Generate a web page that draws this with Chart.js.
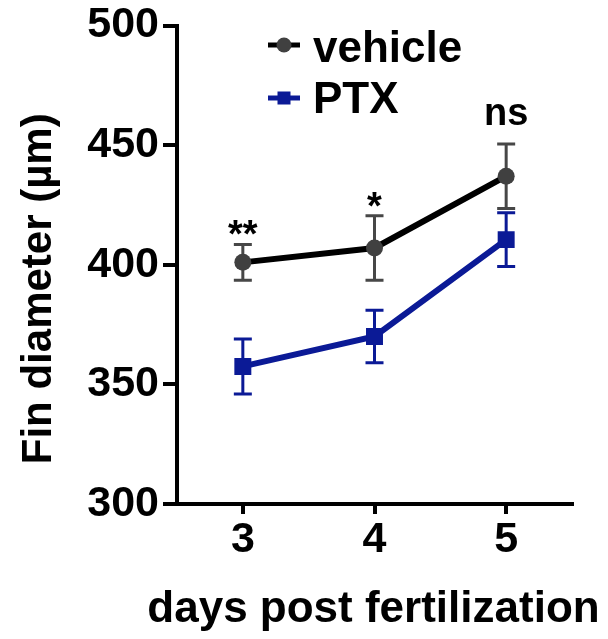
<!DOCTYPE html>
<html>
<head>
<meta charset="utf-8">
<script src="https://cdn.jsdelivr.net/npm/chart.js@4"></script>
<style>
html, body { margin: 0; padding: 0; background: #ffffff; }
#wrap { width: 608px; height: 639px; }
</style>
</head>
<body>
<div id="wrap"><canvas id="c" width="608" height="639"></canvas></div>
<script>
// ---- data ----
const days = ['3', '4', '5'];
const vehicleMean = [401, 407, 437];
const vehicleErr = [7.5, 13.5, 13.5];
const ptxMean = [357.5, 370, 410.5];
const ptxErr = [11.5, 11, 11.2];
const sigLabels = ['**', '*', 'ns'];
const yTickValues = [300, 350, 400, 450, 500];
const seriesNames = ['vehicle', 'PTX'];
const xTitle = 'days post fertilization';
const yTitle = 'Fin diameter (µm)';

const FONT = '"Liberation Sans", Arial, Helvetica, sans-serif';
const BLUE = '#0b1a96';

const errorBars = {
  id: 'errorBars',
  beforeDatasetsDraw(chart) {
    const { ctx, scales: { x, y } } = chart;
    chart.data.datasets.forEach((ds, i) => {
      ctx.save();
      ctx.strokeStyle = ds.errorColor;
      ctx.lineWidth = 3;
      ds.data.forEach((v, j) => {
        const px = x.getPixelForValue(j);
        const top = y.getPixelForValue(v + ds.err[j]);
        const bot = y.getPixelForValue(v - ds.err[j]);
        ctx.beginPath();
        ctx.moveTo(px, top); ctx.lineTo(px, bot);
        ctx.moveTo(px - 9, top); ctx.lineTo(px + 9, top);
        ctx.moveTo(px - 9, bot); ctx.lineTo(px + 9, bot);
        ctx.stroke();
      });
      ctx.restore();
    });
  }
};

const sigMarks = {
  id: 'sigMarks',
  afterDatasetsDraw(chart) {
    const { ctx, scales: { x, y } } = chart;
    ctx.save();
    ctx.fillStyle = '#000';
    ctx.font = 'bold 38px ' + FONT;
    ctx.textAlign = 'center';
    ctx.textBaseline = 'alphabetic';
    sigLabels.forEach((lab, j) => {
      const px = x.getPixelForValue(j);
      const top = y.getPixelForValue(vehicleMean[j] + vehicleErr[j]);
      const py = lab.indexOf('*') >= 0 ? top + 3 : top - 19;
      ctx.fillText(lab, px, py);
    });
    ctx.restore();
  }
};

const axisTitles = {
  id: 'axisTitles',
  afterDraw(chart) {
    const { ctx, chartArea } = chart;
    ctx.save();
    ctx.fillStyle = '#000';
    ctx.font = 'bold 44px ' + FONT;
    ctx.textAlign = 'center';
    ctx.textBaseline = 'alphabetic';
    ctx.fillText(xTitle, (chartArea.left + chartArea.right) / 2 - 1, 622);
    ctx.translate(39, (chartArea.top + chartArea.bottom) / 2 + 24);
    ctx.rotate(-Math.PI / 2);
    ctx.font = 'bold 42px ' + FONT;
    ctx.textBaseline = 'middle';
    ctx.fillText(yTitle, 0, 0);
    ctx.restore();
  }
};

const legendPlugin = {
  id: 'customLegend',
  afterDraw(chart) {
    const { ctx } = chart;
    const iconY = [45, 98];
    const textY = [62, 113];
    chart.data.datasets.forEach((ds, i) => {
      ctx.save();
      ctx.strokeStyle = ds.borderColor;
      ctx.lineWidth = 5;
      ctx.beginPath();
      ctx.moveTo(268, iconY[i]);
      ctx.lineTo(300, iconY[i]);
      ctx.stroke();
      ctx.fillStyle = ds.pointBackgroundColor;
      if (ds.pointStyle === 'circle') {
        ctx.beginPath();
        ctx.arc(284, iconY[i], 7.5, 0, Math.PI * 2);
        ctx.fill();
      } else {
        ctx.fillRect(277.5, iconY[i] - 6.5, 13, 13);
      }
      ctx.fillStyle = '#000';
      ctx.font = 'bold 44px ' + FONT;
      ctx.textAlign = 'left';
      ctx.textBaseline = 'alphabetic';
      ctx.fillText(ds.label, 313, textY[i]);
      ctx.restore();
    });
  }
};

new Chart(document.getElementById('c'), {
  type: 'line',
  data: {
    labels: days,
    datasets: [
      {
        label: seriesNames[0],
        data: vehicleMean,
        err: vehicleErr,
        errorColor: '#474747',
        borderColor: '#000000',
        borderWidth: 6,
        pointStyle: 'circle',
        pointRadius: 8.5,
        pointBorderWidth: 0,
        pointBackgroundColor: '#404040',
        pointBorderColor: '#404040',
        tension: 0,
        fill: false
      },
      {
        label: seriesNames[1],
        data: ptxMean,
        err: ptxErr,
        errorColor: BLUE,
        borderColor: BLUE,
        borderWidth: 6,
        pointStyle: 'rect',
        pointRadius: 12,
        pointBorderWidth: 0,
        pointBackgroundColor: BLUE,
        pointBorderColor: BLUE,
        tension: 0,
        fill: false
      }
    ]
  },
  options: {
    responsive: false,
    animation: false,
    events: [],
    layout: { padding: { left: 0, right: 36, top: 23, bottom: 0 } },
    plugins: {
      legend: { display: false },
      tooltip: { enabled: false }
    },
    scales: {
      x: {
        type: 'category',
        offset: true,
        grid: { drawOnChartArea: false, drawTicks: true, tickLength: 10, tickWidth: 4, tickColor: '#000', lineWidth: 4, color: '#000' },
        border: { display: true, width: 4, color: '#000' },
        ticks: { color: '#000', padding: 5, font: { family: FONT, size: 43, weight: 'bold', lineHeight: 1 } },
        title: { display: false, text: xTitle },
        afterFit(scale) { scale.height = 135; }
      },
      y: {
        min: 300,
        max: 500,
        afterBuildTicks(scale) { scale.ticks = yTickValues.map(v => ({ value: v })); },
        grid: { drawOnChartArea: false, drawTicks: true, tickLength: 14, tickWidth: 4, tickColor: '#000', lineWidth: 4, color: '#000' },
        border: { display: true, width: 4, color: '#000' },
        ticks: { color: '#000', padding: 4, font: { family: FONT, size: 43, weight: 'bold', lineHeight: 1 } },
        title: { display: false, text: yTitle },
        afterFit(scale) { scale.width = 177; }
      }
    }
  },
  plugins: [errorBars, sigMarks, axisTitles, legendPlugin]
});
</script>
</body>
</html>
